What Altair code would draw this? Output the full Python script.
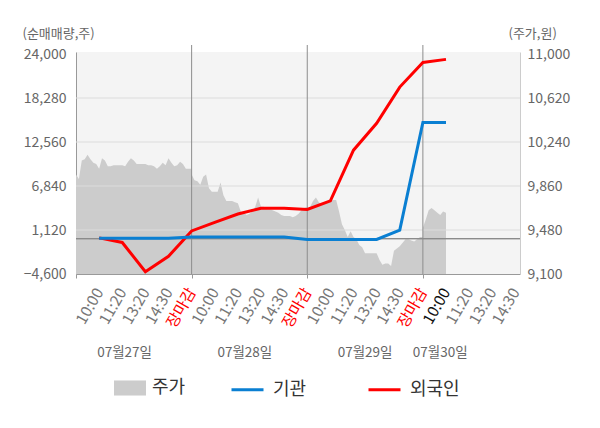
import json
import altair as alt
import pandas as pd

# ---------------- data ----------------
time_labels = ["10:00", "11:20", "13:20", "14:30", "장마감"]
day_labels = ["07월27일", "07월28일", "07월29일", "07월30일"]
day_label_pos = [2.1, 7.3, 12.5, 15.75]
day_bounds = [5, 10, 15]
current_slot = 16

# price (주가) readings, evenly spaced through each session
price_day1 = [9960, 9920, 10080, 10090, 10130, 10090, 10060, 10050, 10010, 10100,
              10080, 10030, 10030, 10040, 10040, 10040, 10040, 10030, 10070, 10100,
              10080, 10050, 10050, 10050, 10050, 10040, 10040, 10030, 10010, 10030,
              10060, 10040, 10100, 10060, 10030, 10040, 10070, 10050, 10010, 10010, 10010]
price_day2 = [9960, 9910, 9900, 9870, 9940, 9960, 9840, 9810, 9810, 9810,
              9890, 9780, 9730, 9730, 9730, 9720, 9710, 9640, 9630, 9610,
              9620, 9640, 9680, 9760, 9680, 9680, 9660, 9660, 9650, 9640,
              9630, 9610, 9600, 9600, 9600, 9590, 9600, 9620, 9650, 9670, 9680]
price_day3 = [9660, 9680, 9730, 9760, 9720, 9700, 9710, 9720, 9730, 9740,
              9740, 9640, 9530, 9480, 9420, 9470, 9420, 9400, 9350, 9330,
              9280, 9280, 9280, 9280, 9280, 9220, 9180, 9190, 9190, 9170,
              9300, 9320, 9340, 9370, 9400, 9400, 9390, 9380, 9400, 9420, 9420]
price_day4 = [9500, 9570, 9650, 9670, 9650, 9630, 9610, 9640, 9630]

# net buying (순매매량) at label slots 1..16
flow_slots = list(range(1, 17))
foreign = [100, -500, -4300, -2300, 1000, 2100, 3200, 3950, 3950, 3800,
           4900, 11500, 15000, 19700, 22900, 23300]
inst = [50, 50, 50, 50, 200, 200, 200, 200, 200, -100,
        -100, -100, -100, 1100, 15100, 15100]

left_ticks = [-4600, 1120, 6840, 12560, 18280, 24000]
right_ticks = [9100, 9480, 9860, 10240, 10620, 11000]
grid_vals = [1120, 6840, 12560, 18280]

# ---------------- tables ----------------
rows = []
for d, day in enumerate([price_day1, price_day2, price_day3, price_day4]):
    for k, p in enumerate(day):
        rows.append({"x": d * 5 + k / 8, "price": p, "series": "주가"})
price_df = pd.DataFrame(rows)

flow_df = pd.DataFrame(
    [{"slot": s, "value": v, "series": "외국인"} for s, v in zip(flow_slots, foreign)]
    + [{"slot": s, "value": v, "series": "기관"} for s, v in zip(flow_slots, inst)]
)
grid_df = pd.DataFrame({"v": grid_vals})
bound_df = pd.DataFrame({"b": day_bounds})
day_df = pd.DataFrame({"x": day_label_pos, "label": day_labels})

tick_labels = [""] + time_labels * 3 + time_labels[:4]
label_expr = json.dumps(tick_labels, ensure_ascii=False) + "[datum.value]"

FONT = "Noto Sans CJK KR"
BLUE = "#0a7fd2"
RED = "#ff0000"

x_scale = alt.Scale(domain=[0, 19.2], nice=False, zero=False, padding=0)
x_axis = alt.Axis(
    values=list(range(len(tick_labels))),
    labelExpr=label_expr,
    labelAngle=-60,
    labelAlign="right",
    labelBaseline="middle",
    labelFontSize=15.5,
    labelPadding=11,
    labelOverlap=False,
    labelFlush=False,
    labelColor={"condition": [
        {"test": "datum.value % 5 == 0 && datum.value > 0", "value": RED},
        {"test": "datum.value == %d" % current_slot, "value": "#111111"}],
        "value": "#777777"},
    tickSize=4,
    tickColor="#999999",
    tickOpacity={"condition": {"test": "datum.value % 5 == 0", "value": 1}, "value": 0},
    domainColor="#999999",
    grid=False,
    title=None,
)

left_scale = alt.Scale(domain=[-4600, 24260], nice=False, zero=False)
left_axis = alt.Axis(
    values=left_ticks, format=",.0f", orient="left",
    labelFontSize=14, labelColor="#666666", labelPadding=10,
    ticks=False, domainColor="#999999", grid=False,
    title="(순매매량,주)", titleAngle=0, titleAlign="left", titleBaseline="middle",
    titleX=-54, titleY=-19, titleFontSize=13, titleFontWeight="normal", titleColor="#666666",
)
right_scale = alt.Scale(domain=[9100, 11017.3], nice=False, zero=False)
right_axis = alt.Axis(
    values=right_ticks, format=",.0f", orient="right",
    labelFontSize=14, labelColor="#666666", labelPadding=7,
    ticks=False, domainColor="#cccccc", grid=False,
    title="(주가,원)", titleAngle=0, titleAlign="left", titleBaseline="middle",
    titleX=-12, titleY=-19, titleFontSize=13, titleFontWeight="normal", titleColor="#666666",
)

area = alt.Chart(price_df).mark_area(interpolate="linear", opacity=1).encode(
    x=alt.X("x:Q", scale=x_scale, axis=x_axis),
    y=alt.Y("price:Q", scale=right_scale, axis=right_axis, stack=None),
    y2=alt.datum(right_ticks[0]),
    fill=alt.Fill("series:N", scale=alt.Scale(domain=["주가"], range=["#cccccc"]),
                  legend=alt.Legend(orient="none", legendX=38, legendY=320, title=None,
                                    symbolType="M-1,-0.47H1V0.47H-1Z", symbolSize=1024,
                                    symbolStrokeWidth=0, symbolOpacity=1,
                                    labelFontSize=18, labelColor="#333333", labelOffset=6,
                                    padding=0)),
)

grid = alt.Chart(grid_df).mark_rule(color="#dcdcdc", strokeWidth=1).encode(
    y=alt.Y("v:Q", scale=left_scale, axis=left_axis),
)
zero = alt.Chart(grid_df).mark_rule(color="#8c8c8c", strokeWidth=1).encode(
    y=alt.datum(0),
)
vrules = alt.Chart(bound_df).mark_rule(color="#8c8c8c", strokeWidth=1).encode(
    x=alt.X("b:Q", scale=x_scale, axis=x_axis),
    y=alt.value(-7),
    y2=alt.value(222),
)
lines = alt.Chart(flow_df).mark_line(strokeWidth=3).encode(
    x=alt.X("slot:Q", scale=x_scale, axis=x_axis),
    y=alt.Y("value:Q", scale=left_scale, axis=left_axis),
    stroke=alt.Stroke("series:N", scale=alt.Scale(domain=["기관", "외국인"], range=[BLUE, RED]),
                      legend=alt.Legend(orient="none", legendX=154, legendY=320, title=None,
                                        direction="horizontal", symbolType="stroke",
                                        symbolSize=1024, symbolStrokeWidth=3,
                                        labelFontSize=18, labelColor="#333333",
                                        labelOffset=8, columnPadding=55, padding=0)),
)
days_text = alt.Chart(day_df).mark_text(fontSize=13.5, color="#666666", align="center",
                                        baseline="middle").encode(
    x=alt.X("x:Q", scale=x_scale, axis=x_axis),
    y=alt.value(301),
    text="label:N",
)

left_group = alt.layer(grid, zero, vrules, lines, days_text)

chart = alt.layer(area, left_group).resolve_scale(y="independent").properties(
    width=444, height=222,
    autosize="none",
    padding={"left": 68, "top": 44, "right": 72, "bottom": 146},
).configure(font=FONT, background="white").configure_view(fill="#f4f4f4", stroke=None)

chart.save("out.html", embed_options={"renderer": "svg", "actions": False})
